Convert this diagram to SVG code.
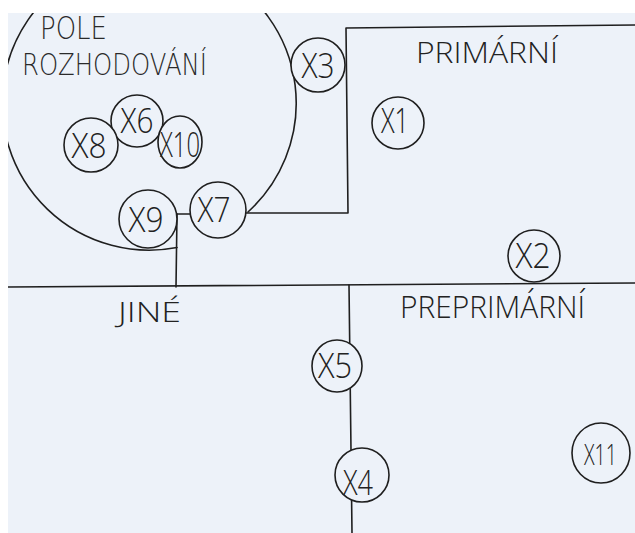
<svg xmlns="http://www.w3.org/2000/svg" width="635" height="533" viewBox="0 0 635 533">
<style>
.ln{fill:none;stroke:#1f1f1f;stroke-width:1.6;stroke-linecap:round;stroke-linejoin:round}
.nd{fill:#edf2f9;stroke:#1f1f1f;stroke-width:1.6}
.t{font-family:"Open Sans","Liberation Sans",sans-serif;font-weight:300;fill:#222;}
.tl{font-family:"DejaVu Sans","Liberation Sans",sans-serif;font-weight:200;fill:#2a2a2a;}
.nt{font-family:"Open Sans","Liberation Sans",sans-serif;font-weight:300;fill:#222;font-size:34px;text-anchor:middle}
</style>
<defs>
<clipPath id="paper"><rect x="8" y="13" width="627" height="520"/></clipPath>
</defs>
<rect width="635" height="533" fill="#ffffff"/>
<rect x="8" y="13" width="627" height="520" fill="#edf2f9"/>
<g id="regions" clip-path="url(#paper)">
<path class="ln" d="M248,212 A147,147 0 1 0 177,247.5"/>
<path class="ln" d="M8,287 L635,283"/>
<path class="ln" d="M349,285 L352,533"/>
</g>
<g id="labels">
<text class="tl" x="40" y="39" font-size="32" textLength="67" lengthAdjust="spacingAndGlyphs">POLE</text>
<text class="tl" x="22" y="74.5" font-size="30" textLength="185" lengthAdjust="spacingAndGlyphs">ROZHODOVÁNÍ</text>
<text class="t" x="416" y="63" font-size="29" textLength="142" lengthAdjust="spacingAndGlyphs">PRIMÁRNÍ</text>
<text class="t" x="400" y="318" font-size="32" textLength="185" lengthAdjust="spacingAndGlyphs">PREPRIMÁRNÍ</text>
<text class="t" x="118" y="322" font-size="27" textLength="63" lengthAdjust="spacingAndGlyphs">JINÉ</text>
</g>
<g id="connectors">
<path class="ln" d="M177,214 L190,214"/>
<path class="ln" d="M177,214 L176,287"/>
<path class="ln" d="M246,213 L348,213 L346,28 L635,25"/>
</g>
<g id="X6"><circle class="nd" cx="137" cy="121" r="26"/><text class="nt" x="137" y="133" textLength="33" lengthAdjust="spacingAndGlyphs">X6</text></g>
<g id="X8"><circle class="nd" cx="91" cy="145" r="27"/><text class="nt" x="89" y="158" textLength="35" lengthAdjust="spacingAndGlyphs">X8</text></g>
<g id="X10"><ellipse class="nd" cx="180" cy="142" rx="22" ry="26"/><text class="nt" x="180" y="157" textLength="40" lengthAdjust="spacingAndGlyphs">X10</text></g>
<g id="X9"><circle class="nd" cx="148" cy="219" r="29"/><text class="nt" x="146" y="232" textLength="35" lengthAdjust="spacingAndGlyphs">X9</text></g>
<g id="X7"><circle class="nd" cx="218" cy="210" r="28"/><text class="nt" x="214" y="222" textLength="33" lengthAdjust="spacingAndGlyphs">X7</text></g>
<g id="X3"><circle class="nd" cx="318" cy="65" r="27"/><text class="nt" x="318" y="78" textLength="33" lengthAdjust="spacingAndGlyphs">X3</text></g>
<g id="X1"><circle class="nd" cx="398" cy="123" r="26"/><text class="nt" x="395" y="133" textLength="28" lengthAdjust="spacingAndGlyphs">X1</text></g>
<g id="X2"><circle class="nd" cx="534" cy="256" r="26"/><text class="nt" x="533" y="268" textLength="35" lengthAdjust="spacingAndGlyphs">X2</text></g>
<g id="X5"><ellipse class="nd" cx="337" cy="366" rx="25" ry="26"/><text class="nt" x="335" y="378" textLength="34" lengthAdjust="spacingAndGlyphs">X5</text></g>
<g id="X4"><circle class="nd" cx="362" cy="475" r="27"/><text class="nt" x="358" y="495" textLength="30" lengthAdjust="spacingAndGlyphs">X4</text></g>
<g id="X11"><ellipse class="nd" cx="601" cy="453" rx="29" ry="30"/><text class="nt" x="584" y="465" style="font-size:29px;text-anchor:start" textLength="33" lengthAdjust="spacingAndGlyphs">X11</text></g>
</svg>
